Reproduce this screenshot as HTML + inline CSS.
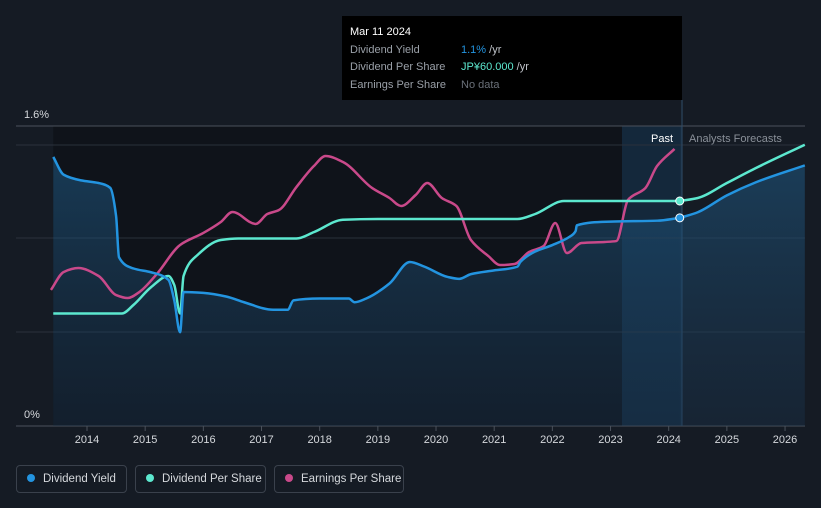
<!DOCTYPE html>
<html><head><meta charset="utf-8"><style>
body{margin:0;background:#151b24;font-family:"Liberation Sans",sans-serif;}
svg{display:block}
.leg{position:absolute;top:465px;height:28px;border:1px solid #3a414c;border-radius:4px;color:#d5d8dc;font-size:11.5px;line-height:27px;padding:0 0 0 10px;box-sizing:border-box;white-space:nowrap;overflow:hidden}
.leg i{display:inline-block;width:8px;height:8px;border-radius:50%;margin-right:8px;vertical-align:0}
</style></head><body>
<div style="position:relative;width:821px;height:508px;overflow:hidden">
<svg id="c" width="821" height="508"></svg>
<div class="leg" style="left:16px;width:111px"><i style="background:#2394e0"></i>Dividend Yield</div>
<div class="leg" style="left:135px;width:131px"><i style="background:#5ce8cf"></i>Dividend Per Share</div>
<div class="leg" style="left:274px;width:130px"><i style="background:#c9498a"></i>Earnings Per Share</div>
</div>
<script>
const yearTicks=[2014,2015,2016,2017,2018,2019,2020,2021,2022,2023,2024,2025,2026];
const yieldT=[2013.42,2013.6,2013.9,2014.2,2014.4,2014.5,2014.55,2014.8,2015.1,2015.4,2015.5,2015.6,2015.66,2016.0,2016.4,2016.7,2017.2,2017.45,2017.55,2018.0,2018.5,2018.6,2018.8,2019.2,2019.55,2019.8,2020.2,2020.4,2020.6,2021.0,2021.4,2021.45,2021.7,2022.0,2022.3,2022.4,2022.42,2023.0,2023.8,2024.19];
const yieldV=[1.435,1.34,1.31,1.296,1.27,1.12,0.90,0.84,0.82,0.78,0.67,0.50,0.715,0.71,0.69,0.66,0.62,0.62,0.67,0.68,0.68,0.66,0.68,0.76,0.875,0.85,0.795,0.785,0.81,0.83,0.85,0.875,0.93,0.965,1.01,1.04,1.07,1.09,1.095,1.11];
const yieldFT=[2024.19,2024.5,2025,2025.5,2026.34];
const yieldFV=[1.11,1.14,1.23,1.30,1.39];
const dpsT=[2013.42,2014.6,2014.8,2015.1,2015.4,2015.5,2015.6,2015.66,2015.9,2016.3,2016.6,2017.6,2017.9,2018.4,2019,2021.4,2021.7,2022.2,2024.19];
const dpsV=[30,30,32.3,37,40,37.6,30,40,45.6,49.6,50,50,51.7,55,55.2,55.2,56.5,60,60];
const dpsFT=[2024.19,2024.5,2025,2025.5,2026.34];
const dpsFV=[60,60.8,64.8,68.8,75];
const epsT=[2013.38,2013.6,2013.85,2014.2,2014.5,2014.7,2014.9,2015.2,2015.6,2016.0,2016.3,2016.5,2016.9,2017.1,2017.3,2017.6,2017.9,2018.1,2018.4,2018.9,2019.2,2019.4,2019.65,2019.85,2020.1,2020.35,2020.6,2020.9,2021.1,2021.35,2021.6,2021.85,2022.05,2022.25,2022.5,2022.9,2023.1,2023.3,2023.6,2023.8,2024.1];
const epsV=[90.7,102.7,105.3,100,87.3,85.3,89.3,101.3,120.7,128.7,136,142.7,134.7,141.3,144,159.3,173.3,180,176,158.7,152,146.7,154,162,152,146.7,124,113.3,107.3,108,116,120,135.3,115.3,122,122.7,123.3,150.7,158.7,173.3,184.7];

const X=t=>87+(t-2014)*58.17;
const YY=v=>426-v*187.5;
const YD=v=>426-v*3.75;
const YE=v=>426-v*1.5;
const NS='http://www.w3.org/2000/svg';
const svg=document.getElementById('c');
function el(tag,attrs,parent){const e=document.createElementNS(NS,tag);for(const k in attrs)e.setAttribute(k,attrs[k]);(parent||svg).appendChild(e);return e;}
function path(ts,vs,yf){
 const x=ts.map(X),y=vs.map(yf),n=x.length;
 const dx=[],s=[];for(let i=0;i<n-1;i++){dx.push(x[i+1]-x[i]);s.push((y[i+1]-y[i])/dx[i]);}
 const m=new Array(n);m[0]=s[0];m[n-1]=s[n-2];
 for(let i=1;i<n-1;i++){if(s[i-1]*s[i]<=0)m[i]=0;else{const w1=2*dx[i]+dx[i-1],w2=dx[i]+2*dx[i-1];m[i]=(w1+w2)/(w1/s[i-1]+w2/s[i]);}}
 let d='M'+x[0]+','+y[0];
 for(let i=0;i<n-1;i++){const h=dx[i]/3;d+=` C${x[i]+h},${y[i]+m[i]*h} ${x[i+1]-h},${y[i+1]-m[i+1]*h} ${x[i+1]},${y[i+1]}`;}
 return d;}

const defs=el('defs',{});
const g=el('linearGradient',{id:'ag',x1:0,y1:0,x2:0,y2:1},defs);
el('stop',{offset:0,'stop-color':'#1f5a85','stop-opacity':0.55},g);
el('stop',{offset:1,'stop-color':'#1a3550','stop-opacity':0.35},g);

let r=el('rect',{x:X(2013.42),y:126,width:X(2024.19)-X(2013.42),height:300,fill:'#0f131a'});

r=el('rect',{x:622,y:126,width:60,height:300,fill:'#1a3a57',opacity:0.55});

[145,238,332].forEach(y=>{const l=el('line',{x1:16,x2:805,y1:y,y2:y,stroke:'#2a313b','stroke-width':1});});
el('line',{x1:16,x2:805,y1:126,y2:126,stroke:'#4a515b'});
el('line',{x1:16,x2:805,y1:426,y2:426,stroke:'#4a515b'});
el('line',{x1:682,x2:682,y1:100,y2:426,stroke:'#2f4c68'});

const allT=yieldT.concat(yieldFT.slice(1)),allV=yieldV.concat(yieldFV.slice(1));
let a=el('path',{d:path(allT,allV,YY)+` L${X(2026.34)},426 L${X(2013.42)},426 Z`,fill:'url(#ag)'});


function line(ts,vs,yf,col,name){const p=el('path',{d:path(ts,vs,yf),fill:'none',stroke:col,'stroke-width':2.5,'stroke-linejoin':'round'});}
line(epsT,epsV,YE,'#c9498a','eps-line');
line(dpsT,dpsV,YD,'#5ce8cf','dps-line');
line(dpsFT,dpsFV,YD,'#5ce8cf','dps-forecast-line');
line(yieldT,yieldV,YY,'#2394e0','yield-line');
line(yieldFT,yieldFV,YY,'#2394e0','yield-forecast-line');
let d1=el('circle',{cx:X(2024.19),cy:YD(60),r:4,fill:'#5ce8cf',stroke:'#fff','stroke-width':1});
let d2=el('circle',{cx:X(2024.19),cy:YY(1.11),r:4,fill:'#2394e0',stroke:'#fff','stroke-width':1});

yearTicks.forEach(y=>{const tk=el('line',{x1:X(y),x2:X(y),y1:426,y2:431,stroke:'#4a515b'});
const t=el('text',{x:X(y),y:443,'text-anchor':'middle',fill:'#d5d8dc','font-size':11});t.textContent=y;});
function txt(x,y,s,fill,size,name,anchor){const t=el('text',{x,y,fill,'font-size':size,'text-anchor':anchor||'start'});t.textContent=s;return t;}
txt(24,118,'1.6%','#d5d8dc',11,'y-label-top');
txt(24,418,'0%','#d5d8dc',11,'y-label-bottom');
txt(673,142,'Past','#ffffff',11,'past-label','end');
txt(689,142,'Analysts Forecasts','#8a9099',11,'forecast-label');

const tg=el('g',{});
el('rect',{x:342,y:16,width:340,height:84,fill:'#000'},tg);
txt(350,35,'Mar 11 2024','#ffffff',11,'tooltip-date');
txt(350,53,'Dividend Yield','#9aa0a8',11,'tooltip-yield-label');
const t1=txt(461,53,'','#2394e0',11,'tooltip-yield-value');t1.innerHTML='1.1%<tspan fill="#c0c4ca"> /yr</tspan>';
txt(350,70,'Dividend Per Share','#9aa0a8',11,'tooltip-dps-label');
const t2=txt(461,70,'','#5ce8cf',11,'tooltip-dps-value');t2.innerHTML='JP¥60.000<tspan fill="#c0c4ca"> /yr</tspan>';
txt(350,88,'Earnings Per Share','#9aa0a8',11,'tooltip-eps-label');
txt(461,88,'No data','#6a7079',11,'tooltip-eps-value');
</script>
</body></html>
